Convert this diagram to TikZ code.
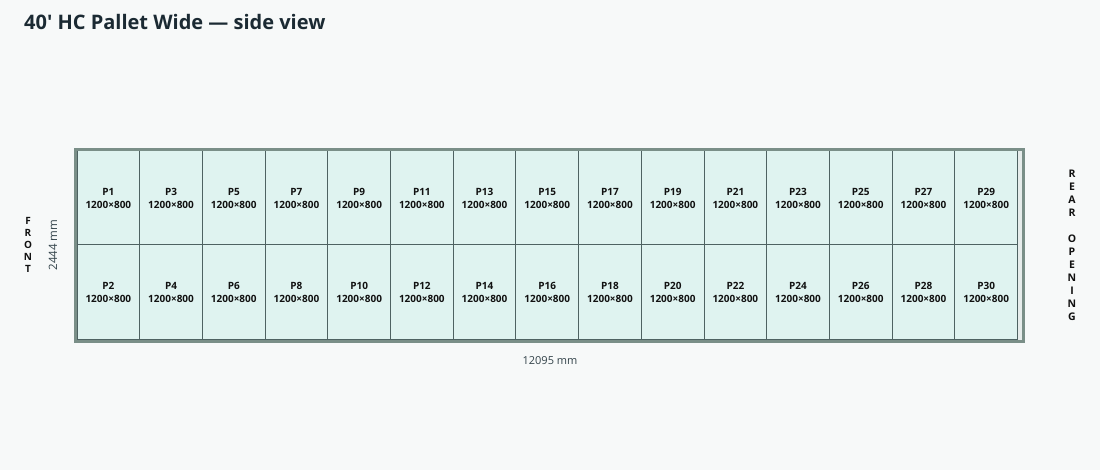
\documentclass[tikz,border=0pt]{standalone}
\usepackage{fontspec}
\setmainfont{Open Sans}[Ligatures=ResetAll]
\definecolor{bgc}{HTML}{F7F9F9}
\definecolor{cellfill}{HTML}{DFF3F0}
\definecolor{celledge}{HTML}{4E6262}
\definecolor{boxedge}{HTML}{7A8F88}
\definecolor{boxfill}{HTML}{E6ECEB}
\definecolor{titlec}{HTML}{1B2A33}
\definecolor{txtc}{HTML}{111111}
\definecolor{dimc}{HTML}{33434A}
\newcommand{\straightquote}{\XeTeXglyph\XeTeXcharglyph"0027\relax}
\tikzset{
  pallet/.style={draw=celledge, line width=1pt, fill=cellfill, minimum width=62.7pt, minimum height=94pt, inner sep=0pt, outer sep=0pt, anchor=north west, align=center, font=\fontsize{10}{13}\selectfont\bfseries, text=txtc},
  stack/.style={align=center, text=txtc},
}
\begin{document}
\begin{tikzpicture}[x=1pt,y=-1pt]
\fill[bgc] (0,0) rectangle (1100,470);
\useasboundingbox (0,0) rectangle (1100,470);
\node[anchor=west, font=\fontsize{20}{23}\selectfont\bfseries, text=titlec, inner sep=0pt] (title) at (24,22.5) {40\straightquote{} HC Pallet Wide — side view};
\node[fill=boxfill, minimum width=947.5pt, minimum height=192pt, inner sep=0pt, outer sep=0pt, anchor=north west] (box) at (75.5,149.5) {};
\foreach \i in {0,...,14}{
  \pgfmathtruncatemacro{\a}{2*\i+1}
  \pgfmathtruncatemacro{\b}{2*\i+2}
  \node[pallet] (p\a) at (77+\i*62.7,151) {P\a\\1200×800};
  \node[pallet] (p\b) at (77+\i*62.7,245) {P\b\\1200×800};
}
\draw[boxedge, line width=3pt] (box.north west) rectangle (box.south east);
\node[stack, font=\fontsize{10}{11.8}\selectfont\bfseries] (front) at (28,245) {F\\R\\O\\N\\T};
\node[rotate=90, font=\fontsize{11.5}{13}\selectfont, text=dimc] (height) at (53,245) {2444 mm};
\node[stack, font=\fontsize{10.5}{13}\selectfont\bfseries] (rear) at (1072,245) {R\\E\\A\\R\\[13pt]O\\P\\E\\N\\I\\N\\G};
\node[font=\fontsize{11}{13}\selectfont, text=dimc] (length) at (550,360.5) {12095 mm};
\end{tikzpicture}
\end{document}
